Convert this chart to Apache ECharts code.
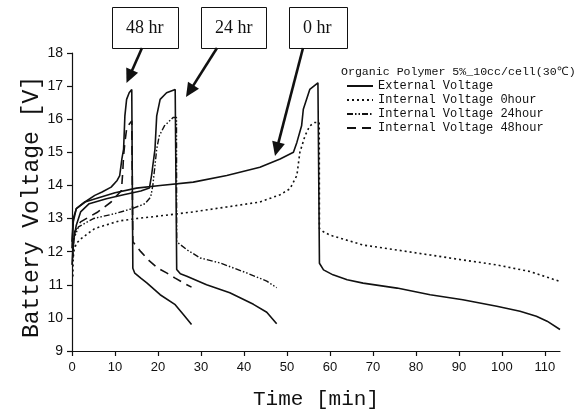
<!DOCTYPE html>
<html>
<head>
<meta charset="utf-8">
<script src="https://cdn.jsdelivr.net/npm/echarts@6/dist/echarts.min.js"></script>
<style>html,body{margin:0;padding:0;background:#fff;}#c{width:581px;height:415px;}</style>
</head>
<body>
<div id="c"></div>
<script>
// ---- data (time in min, voltage in V) ----
const xTicks = [0,10,20,30,40,50,60,70,80,90,100,110];
const legendNames = ['External Voltage','Internal Voltage 0hour','Internal Voltage 24hour','Internal Voltage 48hour'];
const chartTitle = 'Organic Polymer 5%_10cc/cell(30\u2103)';
const boxLabels = ['48 hr','24 hr','0 hr'];

const ext48 = [[0,12.3],[0.3,13.0],[1,13.3],[3,13.5],[5.3,13.7],[7,13.8],[9.1,13.95],[10.5,14.15],[11.1,14.3],[11.6,14.8],[12,15.1],[12.3,16.1],[12.7,16.6],[13.3,16.8],[13.9,16.9],[14.1,16.9],[14.15,11.5],[14.6,11.35],[16,11.2],[17.4,11.06],[20.5,10.7],[24,10.4],[25.9,10.1],[27.8,9.8]];
const ext24 = [[0,11.6],[0.3,12.3],[1,12.8],[2,13.2],[4,13.45],[8,13.6],[12,13.72],[16,13.83],[18,13.92],[18.5,14.3],[19.3,15.1],[19.7,16.1],[20.5,16.6],[22,16.8],[24,16.9],[24.3,16.9],[24.35,11.46],[25.2,11.33],[26.7,11.26],[31.3,11.0],[36.7,10.76],[42.2,10.41],[45.3,10.17],[47.6,9.82]];
const ext0 = [[0,12.1],[0.3,12.9],[1,13.3],[3,13.5],[6,13.62],[10,13.78],[15,13.92],[20.5,14.0],[28.2,14.1],[36,14.3],[43.7,14.55],[48.4,14.8],[51.5,15.0],[52.3,15.3],[53.4,15.8],[53.8,16.3],[55.3,16.9],[57.2,17.1],[57.5,17.1],[57.55,11.65],[58.5,11.45],[60.7,11.3],[64,11.15],[67.7,11.05],[75.6,10.9],[83.3,10.7],[90.9,10.55],[98.8,10.35],[104.2,10.2],[108,10.05],[110.5,9.9],[113.5,9.65]];
const int0 = [[0.2,11.25],[0.25,11.7],[0.4,12.0],[1,12.25],[2.2,12.4],[3.7,12.55],[5.3,12.7],[9,12.85],[11,12.93],[15,13.0],[20.5,13.08],[28.1,13.2],[36,13.35],[43.7,13.5],[48.4,13.72],[50.7,13.9],[52.3,14.3],[53,15.0],[54.2,15.5],[55.3,15.8],[56.5,15.9],[57.5,15.9],[57.55,12.7],[58.5,12.6],[60,12.5],[67.7,12.2],[75.6,12.05],[83.3,11.9],[90.9,11.75],[98.8,11.6],[106.5,11.4],[113.5,11.1]];
const int24 = [[0.2,11.8],[0.5,12.4],[1.5,12.75],[5,13.0],[10,13.15],[14,13.3],[17,13.45],[18.3,13.65],[18.8,14.0],[19.3,14.6],[19.7,15.1],[20.3,15.5],[21.5,15.8],[23.5,16.05],[24.3,16.05],[24.35,12.3],[26.7,12.06],[29.8,11.81],[34.4,11.66],[40.6,11.36],[45.3,11.11],[47.6,10.91]];
const int48 = [[0.2,12.0],[0.6,12.6],[2,12.9],[4,13.05],[6,13.2],[9.1,13.5],[11.5,13.85],[11.8,14.4],[12.0,14.9],[12.3,15.3],[12.7,15.7],[13.3,15.85],[13.9,15.95],[14.1,15.95],[14.15,12.3],[16,12.0],[18,11.72],[20,11.5],[22,11.36],[24,11.2],[26,11.05],[27.8,10.93]];

// ---- styles ----
const MONO = "'Liberation Mono','DejaVu Sans Mono',monospace";
const SANS = "'Liberation Sans','Arial',sans-serif";
const SERIF = "'Liberation Serif','DejaVu Serif',serif";
const INK = '#111';

function lineSeries(name, data, type, width) {
  return {
    name: name, type: 'line', data: data, showSymbol: false, symbol: 'none',
    smooth: false, clip: true, animation: false,
    lineStyle: { color: INK, width: width, type: type, cap: 'butt' },
    itemStyle: { color: INK },
    emphasis: { disabled: true }
  };
}

// annotation boxes + arrows (pixel layout)
const boxRects = [
  { x: 112, y: 7, w: 66, h: 41 },
  { x: 201, y: 7, w: 65, h: 41 },
  { x: 289, y: 7, w: 58, h: 41 }
];
const arrowPaths = [
  [142, 48, 126.5, 83],
  [217, 48, 186, 97],
  [303, 48, 275, 156]
];
const graphics = [];
boxRects.forEach(function (b, i) {
  graphics.push({ type: 'rect', shape: { x: b.x + 0.5, y: b.y + 0.5, width: b.w, height: b.h },
    style: { fill: '#fff', stroke: INK, lineWidth: 1 }, z: 100 });
  graphics.push({ type: 'text', x: b.x + 14, y: b.y + b.h / 2 + 1,
    style: { text: boxLabels[i], font: '18px ' + SERIF, fill: INK, textVerticalAlign: 'middle', textAlign: 'left' }, z: 101 });
});
arrowPaths.forEach(function (a) {
  const x1 = a[0], y1 = a[1], x2 = a[2], y2 = a[3];
  const ang = Math.atan2(y2 - y1, x2 - x1);
  const L = 14, W = 6.5;
  const bx = x2 - L * Math.cos(ang), by = y2 - L * Math.sin(ang);
  const px = -Math.sin(ang), py = Math.cos(ang);
  graphics.push({ type: 'line', shape: { x1: x1, y1: y1, x2: bx + 2 * Math.cos(ang), y2: by + 2 * Math.sin(ang) },
    style: { stroke: INK, lineWidth: 2.6 }, z: 100 });
  graphics.push({ type: 'polygon', shape: { points: [[x2, y2], [bx + W * px, by + W * py], [bx - W * px, by - W * py]] },
    style: { fill: INK }, z: 100 });
});

const chart = echarts.init(document.getElementById('c'), null, { renderer: 'canvas' });
chart.setOption({
  animation: false,
  backgroundColor: '#fff',
  title: {
    text: chartTitle, left: 341, top: 66, padding: 0,
    textStyle: { fontFamily: MONO, fontSize: 11.6, fontWeight: 'normal', color: INK }
  },
  legend: {
    data: legendNames, orient: 'vertical', left: 346, top: 79, padding: 0,
    itemWidth: 26, itemHeight: 14, itemGap: 0,
    itemStyle: { opacity: 0 },
    textStyle: { fontFamily: MONO, fontSize: 12, color: INK, lineHeight: 14 },
    selectedMode: false
  },
  grid: { left: 72, right: 21, top: 53, bottom: 61, containLabel: false },
  xAxis: {
    type: 'value', min: 0, max: 113.5, interval: 10,
    name: 'Time [min]', nameLocation: 'middle', nameGap: 38,
    nameTextStyle: { fontFamily: MONO, fontSize: 21, color: INK },
    axisLine: { show: true, onZero: false, lineStyle: { color: INK, width: 1.2 } },
    axisTick: { show: true, inside: false, length: 5, customValues: xTicks, lineStyle: { color: INK, width: 1.2 } },
    axisLabel: { customValues: xTicks, margin: 10, fontFamily: SANS, fontSize: 13, color: INK },
    splitLine: { show: false }
  },
  yAxis: {
    type: 'value', min: 9, max: 18, interval: 1,
    name: 'Battery Voltage [V]', nameLocation: 'middle', nameGap: 29, nameRotate: 90,
    nameMoveOverlap: false,
    nameTextStyle: { fontFamily: MONO, fontSize: 23, color: INK, padding: [0, 10, 0, 0] },
    axisLine: { show: true, onZero: false, lineStyle: { color: INK, width: 1.2 } },
    axisTick: { show: true, inside: false, length: 5, lineStyle: { color: INK, width: 1.2 } },
    axisLabel: { margin: 9, fontFamily: SANS, fontSize: 14, color: INK },
    splitLine: { show: false }
  },
  series: [
    lineSeries(legendNames[0], ext48, 'solid', 1.6),
    lineSeries(legendNames[0], ext24, 'solid', 1.6),
    lineSeries(legendNames[0], ext0, 'solid', 1.6),
    lineSeries(legendNames[1], int0, [2, 3], 1.6),
    lineSeries(legendNames[2], int24, [6, 2, 1.5, 2, 1.5, 2], 1.4),
    lineSeries(legendNames[3], int48, [9, 6], 1.6)
  ],
  graphic: { elements: graphics }
});
</script>
</body>
</html>
